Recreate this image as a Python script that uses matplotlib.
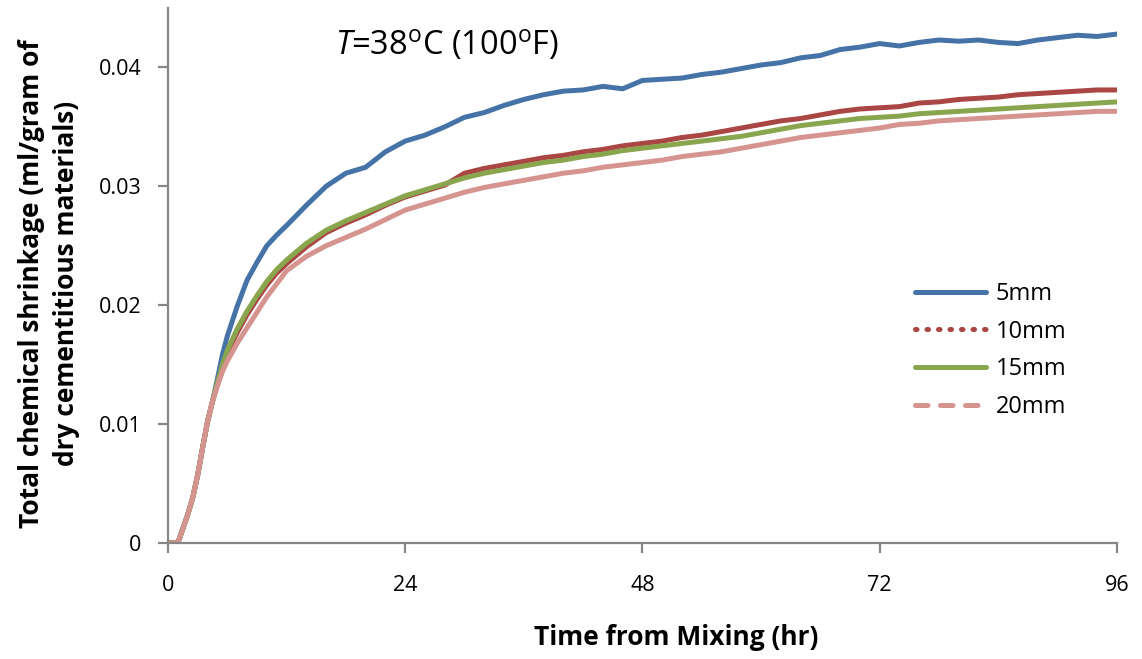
import matplotlib
matplotlib.use("Agg")
import matplotlib.pyplot as plt
from matplotlib.lines import Line2D

plt.rcParams['font.family'] = ['Open Sans', 'DejaVu Sans']
plt.rcParams['mathtext.fontset'] = 'custom'
plt.rcParams['mathtext.rm'] = 'Open Sans'
plt.rcParams['mathtext.it'] = 'Open Sans:italic'

# time from mixing (hr)
hours = [0, 0.5, 1, 1.5, 2, 2.5, 3, 3.5, 4, 4.5, 5, 5.5, 6, 7, 8, 9, 10, 11, 12,
         14, 16, 18, 20, 22, 24, 26, 28, 30, 32, 34, 36, 38, 40, 42, 44, 46, 48,
         50, 52, 54, 56, 58, 60, 62, 64, 66, 68, 70, 72, 74, 76, 78, 80, 82, 84,
         86, 88, 90, 92, 94, 96]

# total chemical shrinkage (ml/g) per specimen thickness
s5mm = [0, 0, 0, 0.0012, 0.0024, 0.0038, 0.0057, 0.0080, 0.0102, 0.0119, 0.0138,
        0.0158, 0.0174, 0.0199, 0.0221, 0.0236, 0.0250, 0.0259, 0.0267,
        0.0284, 0.0300, 0.0311, 0.0316, 0.0329, 0.0338, 0.0343, 0.0350, 0.0358,
        0.0362, 0.0368, 0.0373, 0.0377, 0.0380, 0.0381, 0.0384, 0.0382, 0.0389,
        0.0390, 0.0391, 0.0394, 0.0396, 0.0399, 0.0402, 0.0404, 0.0408, 0.0410,
        0.0415, 0.0417, 0.0420, 0.0418, 0.0421, 0.0423, 0.0422, 0.0423, 0.0421,
        0.0420, 0.0423, 0.0425, 0.0427, 0.0426, 0.0428]
s10mm = [0, 0, 0, 0.0012, 0.0024, 0.0038, 0.0057, 0.0080, 0.0102, 0.0119, 0.0133,
         0.0148, 0.0160, 0.0177, 0.0192, 0.0205, 0.0217, 0.0227, 0.0235,
         0.0249, 0.0261, 0.0269, 0.0276, 0.0284, 0.0291, 0.0296, 0.0301, 0.0311,
         0.0315, 0.0318, 0.0321, 0.0324, 0.0326, 0.0329, 0.0331, 0.0334, 0.0336,
         0.0338, 0.0341, 0.0343, 0.0346, 0.0349, 0.0352, 0.0355, 0.0357, 0.0360,
         0.0363, 0.0365, 0.0366, 0.0367, 0.0370, 0.0371, 0.0373, 0.0374, 0.0375,
         0.0377, 0.0378, 0.0379, 0.0380, 0.0381, 0.0381]
s15mm = [0, 0, 0, 0.0012, 0.0024, 0.0038, 0.0057, 0.0080, 0.0102, 0.0119, 0.0135,
         0.0150, 0.0162, 0.0180, 0.0195, 0.0208, 0.0220, 0.0230, 0.0238,
         0.0252, 0.0263, 0.0271, 0.0278, 0.0285, 0.0292, 0.0297, 0.0302, 0.0307,
         0.0311, 0.0314, 0.0317, 0.0320, 0.0322, 0.0325, 0.0327, 0.0330, 0.0332,
         0.0334, 0.0336, 0.0338, 0.0340, 0.0342, 0.0345, 0.0348, 0.0351, 0.0353,
         0.0355, 0.0357, 0.0358, 0.0359, 0.0361, 0.0362, 0.0363, 0.0364, 0.0365,
         0.0366, 0.0367, 0.0368, 0.0369, 0.0370, 0.0371]
s20mm = [0, 0, 0, 0.0012, 0.0024, 0.0038, 0.0057, 0.0080, 0.0102, 0.0119, 0.0132,
         0.0144, 0.0153, 0.0168, 0.0181, 0.0194, 0.0207, 0.0218, 0.0229,
         0.0241, 0.0250, 0.0257, 0.0264, 0.0272, 0.0280, 0.0285, 0.0290, 0.0295,
         0.0299, 0.0302, 0.0305, 0.0308, 0.0311, 0.0313, 0.0316, 0.0318, 0.0320,
         0.0322, 0.0325, 0.0327, 0.0329, 0.0332, 0.0335, 0.0338, 0.0341, 0.0343,
         0.0345, 0.0347, 0.0349, 0.0352, 0.0353, 0.0355, 0.0356, 0.0357, 0.0358,
         0.0359, 0.0360, 0.0361, 0.0362, 0.0363, 0.0363]

labels = ['5mm', '10mm', '15mm', '20mm']
colors = ['#4572A7', '#AA4643', '#89A54E', '#D69491']
legend_styles = ['-', (0, (0.3, 2.0)), '-', (0, (2.5, 2.5))]
xticks = [0, 24, 48, 72, 96]
yticks = [0, 0.01, 0.02, 0.03, 0.04]

fig = plt.figure(figsize=(11.42, 6.59), dpi=100)
ax = fig.add_axes([0.1471, 0.176, 0.8309, 0.812])

for ys, c in zip([s5mm, s10mm, s15mm, s20mm], colors):
    ax.plot(hours, ys, color=c, lw=3.6, solid_capstyle='round')

ax.set_xlim(0, 96)
ax.set_ylim(0, 0.045)
ax.set_xticks(xticks)
ax.set_yticks(yticks)
ax.set_yticklabels(['0', '0.01', '0.02', '0.03', '0.04'])
for side in ['top', 'right']:
    ax.spines[side].set_visible(False)
for side in ['left', 'bottom']:
    ax.spines[side].set_color('#868686')
    ax.spines[side].set_linewidth(1.6)
ax.tick_params(axis='both', direction='out', length=7, width=1.6,
               color='#868686', labelsize=15.5)
ax.tick_params(axis='x', pad=16)
ax.tick_params(axis='y', pad=12)

ax.set_xlabel('Time from Mixing (hr)', fontsize=19, fontweight='bold')
ax.xaxis.set_label_coords(0.536, -0.152)
fig.text(0.043, 0.57, 'Total chemical shrinkage (ml/gram of\ndry cementitious materials)',
         rotation=90, ha='center', va='center', fontsize=19, fontweight='bold',
         linespacing=1.35)

ax.text(0.176, 0.931, r'$\mathit{T}$=38$^{\mathrm{o}}$C (100$^{\mathrm{o}}$F)',
        transform=ax.transAxes, fontsize=23.5, ha='left', va='center')

handles = [Line2D([], [], color=c, lw=3.6, ls=s, dash_capstyle='round',
                  solid_capstyle='round')
           for c, s in zip(colors, legend_styles)]
fig.legend(handles, labels, loc='upper left', bbox_to_anchor=(0.791, 0.59),
           frameon=False, fontsize=17, handlelength=3.0, handletextpad=0.4,
           labelspacing=0.58, borderpad=0)

fig.savefig('out.png', dpi=100)
